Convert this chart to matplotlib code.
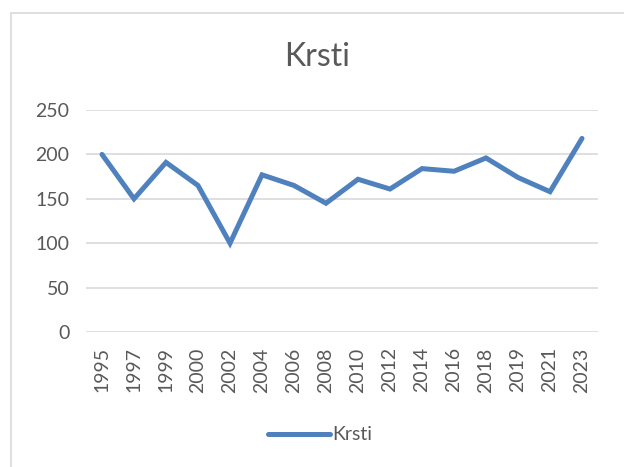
import matplotlib.pyplot as plt
from matplotlib.patches import Rectangle

years = ['1995', '1997', '1999', '2000', '2002', '2004', '2006', '2008',
         '2010', '2012', '2014', '2016', '2018', '2019', '2021', '2023']
krsti = [200, 150, 191, 165, 100, 177, 165, 145, 172, 161, 184, 181, 196, 174, 158, 218]

plt.rcParams['font.family'] = ['Lato', 'DejaVu Sans']
text_color = '#595959'
line_color = '#4E81BD'

fig = plt.figure(figsize=(6.24, 4.67), dpi=100)
W, H = 624, 467
ax = fig.add_axes([86 / W, 1 - 332 / H, 512 / W, 222 / H])

x = list(range(len(years)))
ax.plot(x, krsti, color=line_color, linewidth=3.6, solid_capstyle='round',
        solid_joinstyle='miter', label='Krsti', zorder=3)

ax.set_xlim(-0.5, len(years) - 0.5)
ax.set_ylim(0, 250)
ax.set_yticks(range(0, 251, 50))
ax.set_xticks(x)
ax.set_xticklabels(years, rotation=90, fontsize=14, color=text_color)
ax.tick_params(axis='y', labelsize=14, labelcolor=text_color, length=0, pad=12)
ax.tick_params(axis='x', length=0, pad=11)
ax.grid(axis='y', color='#D9D9D9', linewidth=1.2, zorder=0)
for s in ax.spines.values():
    s.set_visible(False)

fig.text(317 / W, 1 - 57 / H, 'Krsti', ha='center', va='center',
         fontsize=23, color=text_color)

leg = fig.legend(loc='center', bbox_to_anchor=(320 / W, 1 - 435 / H),
                 frameon=False, fontsize=14, handlelength=3.2, handletextpad=0.1)
for t in leg.get_texts():
    t.set_color(text_color)

# chart area border
fig.patches.append(Rectangle((10.5 / W, -0.1), 1.2, 1 - 12.5 / H + 0.1,
                             transform=fig.transFigure, fill=False,
                             edgecolor='#D9D9D9', linewidth=1.2))

plt.savefig('out.png', dpi=100)
